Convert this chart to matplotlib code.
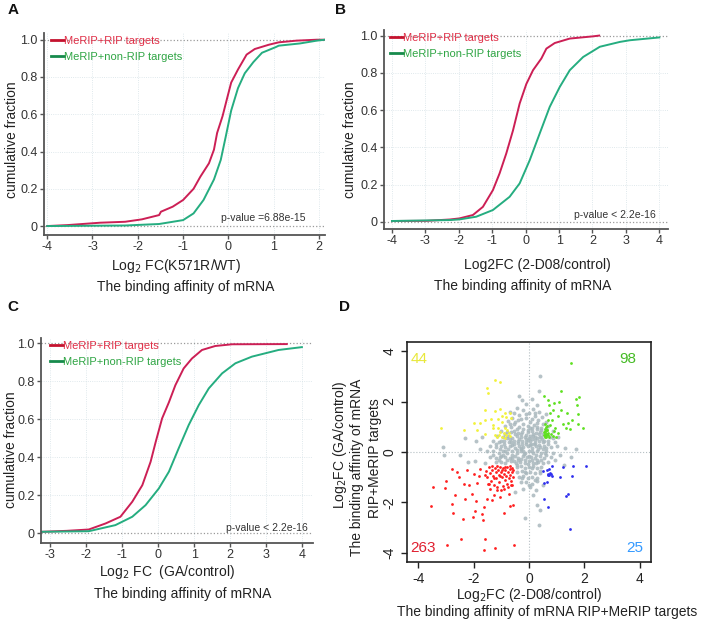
import numpy as np
import matplotlib.pyplot as plt

plt.rcParams['font.family'] = ['Liberation Sans', 'DejaVu Sans']

W, H = 703, 622

# ---- panel A : Log2 FC(K571R/WT)
a_rip_x = [-4.0, -3.56, -2.83, -2.28, -1.91, -1.53, -1.49, -1.23, -1.0, -0.77, -0.62, -0.43,
           -0.32, -0.25, -0.13, -0.02, 0.06, 0.21, 0.40, 0.58, 0.89, 1.11, 1.5, 1.95, 2.13]
a_rip_y = [0.0, 0.005, 0.018, 0.023, 0.036, 0.059, 0.077, 0.104, 0.14, 0.20, 0.265, 0.337,
           0.41, 0.50, 0.59, 0.695, 0.77, 0.84, 0.92, 0.95, 0.973, 0.986, 0.995, 1.0, 1.0]
a_non_x = [-4.0, -2.28, -1.53, -1.0, -0.77, -0.55, -0.32, -0.17, -0.06, 0.06, 0.21, 0.36,
           0.55, 0.74, 1.04, 1.11, 1.58, 1.95, 2.13]
a_non_y = [0.0, 0.003, 0.011, 0.032, 0.068, 0.14, 0.25, 0.355, 0.48, 0.62, 0.74, 0.82,
           0.88, 0.93, 0.96, 0.968, 0.98, 0.995, 1.0]

# ---- panel B : Log2FC (2-D08/control)
b_rip_x = [-4.0, -2.97, -2.27, -1.98, -1.58, -1.28, -0.98, -0.78, -0.58, -0.38, -0.18,
           0.02, 0.22, 0.47, 0.62, 0.87, 1.32, 2.02, 2.2]
b_rip_y = [0.004, 0.005, 0.012, 0.018, 0.036, 0.08, 0.17, 0.26, 0.367, 0.49, 0.635,
           0.74, 0.814, 0.877, 0.93, 0.96, 0.984, 0.996, 1.0]
b_non_x = [-4.0, -2.27, -1.98, -1.48, -0.98, -0.48, -0.18, 0.12, 0.42, 0.72, 1.02,
           1.32, 1.72, 2.22, 2.82, 3.12, 4.0]
b_non_y = [0.004, 0.009, 0.0125, 0.027, 0.063, 0.134, 0.206, 0.33, 0.474, 0.617, 0.724,
           0.814, 0.885, 0.94, 0.966, 0.975, 0.99]

# ---- panel C : Log2 FC (GA/control)
c_rip_x = [-3.23, -2.54, -1.93, -1.46, -1.05, -0.72, -0.44, -0.21, -0.07, 0.11, 0.30,
           0.48, 0.71, 0.94, 1.22, 1.59, 2.06, 3.58]
c_rip_y = [0.009, 0.014, 0.021, 0.053, 0.088, 0.167, 0.254, 0.377, 0.48, 0.605, 0.69,
           0.78, 0.868, 0.92, 0.965, 0.986, 0.995, 0.996]
c_non_x = [-3.23, -1.93, -1.19, -0.72, -0.35, 0.02, 0.30, 0.57, 0.85, 1.13, 1.41,
           1.78, 2.15, 2.61, 3.35, 4.0]
c_non_y = [0.009, 0.012, 0.044, 0.088, 0.149, 0.237, 0.325, 0.447, 0.57, 0.675, 0.763,
           0.842, 0.895, 0.93, 0.965, 0.98]

# ---- panel D : scatter, (x = 2-D08/control, y = GA/control)
gray_pts = [
    (0.4, 3.0), (-0.25, 2.05), (0.1, 2.1), (-0.1, 1.9), (0.3, 1.85), (-0.45, 1.75), (0.15, 1.72),
    (-0.2, 1.65), (-0.55, 1.55), (0.35, 1.6), (0.0, 1.55), (-0.35, 1.45), (0.22, 1.42), (0.48, 1.38),
    (-0.6, 1.35), (-0.1, 1.35), (-0.75, 1.22), (-0.4, 1.25), (0.05, 1.2), (0.32, 1.25), (0.6, 1.18),
    (-0.2, 1.12), (-0.55, 1.1), (0.18, 1.08), (-0.85, 1.02), (-0.65, 0.98), (-0.35, 1.0), (-0.05, 1.02),
    (0.12, 0.95), (0.3, 1.0), (0.45, 0.95), (-0.2, 0.9), (0.7, 1.02), (-1.0, 0.85), (-0.8, 0.8),
    (-0.55, 0.82), (-0.4, 0.75), (-0.25, 0.8), (-0.05, 0.78), (0.1, 0.82), (0.25, 0.75), (0.4, 0.8),
    (0.52, 0.72), (0.85, 0.85), (-0.12, 0.68), (-1.15, 0.62), (-0.95, 0.6), (-0.75, 0.65), (-0.6, 0.55),
    (-0.45, 0.62), (-0.3, 0.58), (-0.15, 0.6), (0.0, 0.55), (0.15, 0.62), (0.3, 0.55), (0.45, 0.6),
    (0.85, 0.55), (0.22, 0.48), (-1.3, 0.42), (-1.1, 0.4), (-0.9, 0.45), (-0.72, 0.38), (-0.55, 0.42),
    (-0.4, 0.35), (-0.25, 0.45), (-0.1, 0.38), (0.05, 0.42), (0.2, 0.35), (0.35, 0.42), (0.5, 0.38),
    (0.7, 0.42), (0.95, 0.4), (-1.4, 0.22), (-1.2, 0.2), (-1.0, 0.25), (-0.85, 0.18), (-0.68, 0.22),
    (-0.5, 0.15), (-0.35, 0.25), (-0.2, 0.18), (-0.05, 0.22), (0.1, 0.15), (0.25, 0.22), (0.4, 0.18),
    (0.55, 0.25), (0.78, 0.2), (1.0, 0.22), (-1.5, 0.02), (-1.3, 0.05), (-1.1, -0.02), (-0.95, 0.03),
    (-0.78, -0.03), (-0.62, 0.05), (-0.45, -0.02), (-0.3, 0.04), (-0.15, -0.03), (0.0, 0.05),
    (0.15, -0.02), (0.3, 0.03), (0.45, -0.04), (0.62, 0.02), (0.88, -0.03), (-1.4, -0.18),
    (-1.2, -0.22), (-1.02, -0.15), (-0.85, -0.2), (-0.7, -0.25), (-0.52, -0.17), (-0.38, -0.22),
    (-0.22, -0.15), (-0.08, -0.2), (0.08, -0.18), (0.22, -0.25), (0.38, -0.17), (0.55, -0.22),
    (0.78, -0.18), (-1.2, -0.4), (-1.0, -0.38), (-0.85, -0.42), (-0.65, -0.35), (-0.48, -0.42),
    (-0.32, -0.38), (-0.15, -0.45), (0.0, -0.36), (0.15, -0.42), (0.32, -0.38), (0.5, -0.45),
    (0.68, -0.4), (-0.45, -0.6), (-0.3, -0.55), (-0.15, -0.62), (0.0, -0.58), (0.15, -0.55),
    (0.3, -0.62), (0.45, -0.58), (-0.42, -0.8), (-0.25, -0.75), (-0.1, -0.82), (0.05, -0.78),
    (0.2, -0.85), (0.38, -0.76), (-0.35, -1.0), (-0.2, -0.95), (-0.05, -1.05), (0.12, -0.98),
    (0.3, -1.02), (-0.3, -1.2), (-0.1, -1.18), (0.1, -1.25), (0.28, -1.15), (-0.2, -1.45),
    (0.05, -1.4), (0.25, -1.5), (0.3, -2.1), (-0.15, -2.6), (0.35, -2.9), (0.4, -2.3), (0.15, -1.7),
    (-0.5, -1.6), (0.5, -1.3), (-3.1, 0.2), (-3.05, -0.1), (-2.2, -0.4), (-1.9, 0.45), (-1.95, -0.35),
    (-2.5, -0.1), (-1.7, 0.6), (-1.6, -0.45), (-1.75, 0.1), (-2.3, 0.55), (1.1, -0.1), (1.3, 0.15),
    (1.7, 0.1), (1.25, -0.5), (0.95, -0.3), (1.5, -0.2), (1.05, 0.6), (-0.35, 2.2), (0.35, 2.4),
    (-0.7, 1.6), (0.6, 1.5), (-0.6, 0.28), (-0.45, 0.08), (-0.28, 0.12), (-0.12, 0.3), (0.02, 0.28),
    (0.18, 0.3), (0.32, 0.1), (0.48, 0.5), (0.12, 0.5), (-0.05, 0.48), (-0.35, 0.5), (-0.5, 0.7),
    (-0.18, -0.08), (-0.6, -0.1), (-0.85, 0.05), (0.35, 0.7), (0.05, 0.95), (-0.3, 0.15), (0.25, -0.1),
    (-0.4, -0.3), (0.1, -0.3), (-0.8, -0.3), (-1.05, 0.12), (0.6, 0.15), (0.6, -0.1),
    (-0.9, 0.3), (-0.7, 0.5), (-0.55, 0.3), (-0.4, 0.45), (-0.25, 0.32), (-0.1, 0.5), (0.05, 0.65),
    (0.2, 0.58), (0.35, 0.28), (0.5, 0.1), (0.42, 0.88), (0.28, 0.9), (0.15, 0.72), (-0.02, 0.88),
    (-0.3, 0.7), (-0.45, 0.9), (-0.65, 0.8), (-0.8, 0.55), (-1.0, 0.45), (-1.2, 0.3), (-1.3, -0.1),
    (-1.1, -0.3), (-0.95, -0.1), (-0.75, 0.1), (-0.6, -0.25), (-0.45, -0.5), (-0.3, -0.28),
    (-0.15, -0.3), (0.0, -0.15), (0.12, 0.05), (0.28, -0.3), (0.45, -0.3), (0.58, -0.05), (0.7, 0.3),
    (0.75, 0.6), (0.62, 0.9), (0.5, 1.1), (0.3, 1.15), (0.1, 1.3), (-0.3, 1.3), (-0.1, 1.5), (0.2, 1.55),
    (-0.5, 1.2), (-0.7, 1.1), (-0.15, -0.8), (0.1, -0.65), (0.25, -0.45), (-0.05, -0.48), (0.4, -0.85),
    (0.2, -1.1), (-0.25, -1.05), (0.0, -1.3), (-0.55, -0.35), (-0.2, 0.05), (0.08, 0.3), (0.38, 0.58),
    (0.55, 0.45), (-0.65, 0.4), (-0.85, 0.7), (-1.05, -0.2),
]
yellow_pts = [
    (-3.19, 0.96), (-2.33, 0.86), (-1.87, 0.86), (-2.0, 1.14), (-1.76, 1.15), (-1.58, 1.25),
    (-1.59, 1.65), (-1.52, 2.52), (-1.47, 2.34), (-1.24, 2.86), (-1.06, 2.79), (-1.24, 1.61),
    (-1.06, 1.69), (-0.85, 1.56), (-0.68, 1.56), (-0.97, 1.41), (-0.82, 1.37), (-1.36, 1.32),
    (-1.12, 1.31), (-1.31, 1.08), (-0.97, 1.19), (-0.66, 1.36), (-1.58, 0.70), (-1.31, 0.95),
    (-1.12, 0.96), (-0.85, 0.96), (-1.24, 0.66), (-1.15, 0.59), (-1.07, 0.69), (-0.97, 0.59),
    (-0.90, 0.75), (-0.82, 0.66), (-0.73, 0.75), (-0.70, 0.62), (-0.85, 0.57), (-1.03, 0.79),
    (-0.78, 0.86),
]
green_pts = [
    (1.51, 3.52), (1.16, 2.40), (1.81, 2.19), (1.69, 2.11), (0.55, 2.20), (0.70, 2.07), (0.91, 1.94),
    (1.09, 2.0), (0.73, 1.85), (1.72, 1.85), (0.88, 1.65), (1.15, 1.65), (0.75, 1.54), (1.36, 1.56),
    (1.75, 1.49), (1.03, 1.41), (0.70, 1.25), (0.84, 1.28), (1.54, 1.25), (1.42, 1.15), (1.75, 1.10),
    (1.22, 1.10), (1.95, 0.96), (1.32, 0.96), (1.47, 0.92), (0.58, 1.12), (0.64, 1.02), (0.75, 1.06),
    (0.93, 0.96), (0.90, 0.83), (1.06, 0.75), (0.79, 0.73), (0.64, 0.86), (0.55, 0.79), (0.55, 0.66),
    (0.58, 0.59), (0.67, 0.66), (0.72, 0.60), (0.88, 0.62), (0.96, 0.60), (0.56, 0.62), (0.58, 0.68),
    (0.60, 0.72), (0.57, 0.78), (0.62, 0.65), (0.65, 0.70), (0.59, 0.85), (0.63, 0.60), (0.68, 0.75),
    (0.56, 0.92), (0.61, 0.98), (0.66, 0.88),
]
red_pts = [
    (-3.48, -1.39), (-3.54, -2.14), (-2.95, -3.70), (-2.99, -1.15), (-3.02, -1.43), (-2.79, -0.66),
    (-2.59, -0.79), (-2.53, -0.99), (-2.66, -1.72), (-2.78, -2.05), (-2.74, -2.42), (-2.47, -3.43),
    (-2.39, -2.64), (-2.35, -1.25), (-2.31, -1.85), (-2.23, -0.70), (-2.17, -1.32), (-2.07, -1.65),
    (-2.03, -2.57), (-1.93, -2.35), (-1.91, -1.94), (-1.99, -0.86), (-1.87, -1.23), (-1.79, -0.96),
    (-1.75, -0.66), (-1.69, -2.44), (-1.67, -2.71), (-1.63, -2.18), (-1.61, -3.87), (-1.57, -3.43),
    (-1.51, -1.85), (-1.45, -1.25), (-1.35, -1.91), (-1.27, -1.72), (-1.23, -3.79), (-1.15, -1.52),
    (-1.03, -1.78), (-0.90, -2.42), (-0.73, -1.65), (-0.67, -2.15), (-0.59, -2.11), (-0.55, -3.67),
    (-1.55, -0.75), (-1.5, -1.0), (-1.45, -0.6), (-1.4, -0.85), (-1.38, -1.15), (-1.32, -0.7),
    (-1.3, -0.95), (-1.25, -1.3), (-1.22, -0.62), (-1.2, -0.8), (-1.18, -1.05), (-1.12, -0.7),
    (-1.1, -0.9), (-1.08, -1.2), (-1.05, -0.6), (-1.0, -0.78), (-0.98, -1.0), (-0.95, -1.35),
    (-0.92, -0.65), (-0.9, -0.88), (-0.88, -1.1), (-0.85, -0.72), (-0.82, -0.95), (-0.8, -1.25),
    (-0.78, -0.6), (-0.75, -0.8), (-0.72, -1.05), (-0.7, -0.68), (-0.68, -0.9), (-0.65, -1.15),
    (-0.62, -0.62), (-0.6, -0.78), (-0.58, -1.0), (-0.56, -0.7), (-1.48, -1.25), (-1.42, -1.45),
    (-1.35, -0.55), (-1.15, -1.4), (-1.02, -1.5), (-0.9, -1.45), (-0.75, -1.4), (-0.66, -1.3),
    (-1.6, -0.9), (-1.28, -1.05), (-1.05, -0.95), (-0.97, -0.7), (-0.86, -0.6), (-0.7, -0.55),
    (-1.15, -0.55), (-0.6, -1.3),
]
blue_pts = [
    (0.84, -0.55), (1.24, -0.59), (1.59, -0.55), (2.07, -0.54), (0.52, -0.75), (0.64, -0.70),
    (0.72, -0.69), (0.70, -0.86), (0.73, -0.90), (0.79, -0.88), (0.67, -0.92), (1.12, -0.99),
    (1.56, -0.94), (0.55, -1.23), (0.64, -1.19), (1.39, -1.65), (1.35, -1.76), (0.55, -1.87),
    (0.67, -2.18), (1.47, -3.04), (0.77, -0.83), (0.82, -0.94),
]
quad_counts = ['44', '98', '263', '25']

RED = '#cc1f55'
GREEN = '#25ad80'

fig = plt.figure(figsize=(W / 100, H / 100), dpi=100)


def box(left, top, right, bottom):
    return fig.add_axes([left / W, 1 - bottom / H, (right - left) / W, (bottom - top) / H])


def ftext(x, y, s, **kw):
    fig.text(x / W, 1 - y / H, s, **kw)


def cdf_panel(ax, xlim, ylim, xticks, rip, non, pval, pval_xy, leg_xy):
    ax.plot(rip[0], rip[1], color=RED, lw=1.4, label='MeRIP+RIP targets')
    ax.plot(non[0], non[1], color=GREEN, lw=1.4, label='MeRIP+non-RIP targets')
    ax.set_xlim(xlim)
    ax.set_ylim(ylim)
    ax.set_xticks(xticks)
    ax.set_xticklabels([str(t) for t in xticks])
    ax.set_yticks([0, 0.2, 0.4, 0.6, 0.8, 1.0])
    ax.set_yticklabels(['0', '0.2', '0.4', '0.6', '0.8', '1.0'])
    for s in ['top', 'right']:
        ax.spines[s].set_visible(False)
    for s in ['left', 'bottom']:
        ax.spines[s].set_color('#555555')
        ax.spines[s].set_linewidth(1.3)
    ax.tick_params(color='#555555', labelcolor='#333333', labelsize=9, length=3, width=1, pad=1.5)
    for t in xticks:
        ax.axvline(t, color='#d5e2e6', lw=0.6, ls=':', zorder=0)
    for t in [0.2, 0.4, 0.6, 0.8]:
        ax.axhline(t, color='#d5e2e6', lw=0.6, ls=':', zorder=0)
    ax.axhline(0, color='#9a9a9a', lw=0.9, ls=':', zorder=0)
    ax.axhline(1, color='#9a9a9a', lw=0.9, ls=':', zorder=0)
    leg = ax.legend(loc='upper left', bbox_to_anchor=leg_xy, frameon=False, fontsize=8,
                    handlelength=1.2, handletextpad=0.0, borderpad=0, borderaxespad=0,
                    labelspacing=0.55)
    leg.get_lines()[0].set_color('#c4122e')
    leg.get_lines()[1].set_color('#168a4c')
    leg.get_lines()[0].set_linewidth(2)
    leg.get_lines()[1].set_linewidth(2)
    leg.get_texts()[0].set_color('#e03048')
    leg.get_texts()[1].set_color('#2fa544')
    ax.text(pval_xy[0], pval_xy[1], pval, transform=ax.transAxes, ha='right', va='center',
            fontsize=7.5, color='#333333')


ax_a = box(44, 33, 325, 235)
cdf_panel(ax_a, (-4.07, 2.13), (-0.048, 1.036), [-4, -3, -2, -1, 0, 1, 2],
          (a_rip_x, a_rip_y), (a_non_x, a_non_y), 'p-value =6.88e-15', (0.932, 0.084),
          (0.025, 0.985))

ax_b = box(384, 30, 668, 229)
cdf_panel(ax_b, (-4.24, 4.26), (-0.039, 1.03), [-4, -3, -2, -1, 0, 1, 2, 3, 4],
          (b_rip_x, b_rip_y), (b_non_x, b_non_y), 'p-value < 2.2e-16', (0.958, 0.07),
          (0.02, 0.985))

ax_c = box(41, 338, 313, 543)
cdf_panel(ax_c, (-3.26, 4.31), (-0.05, 1.028), [-3, -2, -1, 0, 1, 2, 3, 4],
          (c_rip_x, c_rip_y), (c_non_x, c_non_y), 'p-value < 2.2e-16', (0.98, 0.075),
          (0.032, 0.985))

# ---- panel D
ax_d = box(407, 342, 651, 562)
gp = np.array(gray_pts)
ax_d.scatter(gp[:, 0], gp[:, 1], s=8, color='#a9b8bd', alpha=0.85, lw=0)
for pts, col in [(yellow_pts, '#f2f23a'), (green_pts, '#5fe020'),
                 (red_pts, '#ff2020'), (blue_pts, '#3030ee')]:
    p = np.array(pts)
    ax_d.scatter(p[:, 0], p[:, 1], s=4, color=col, lw=0)
ax_d.axvline(0, color='#b5bfc3', lw=0.8, ls=':', zorder=0)
ax_d.axhline(0, color='#b5bfc3', lw=0.8, ls=':', zorder=0)
ax_d.set_xlim(-4.4, 4.4)
ax_d.set_ylim(-4.36, 4.36)
ax_d.set_xticks([-4, -2, 0, 2, 4])
ax_d.set_yticks([-4, -2, 0, 2, 4])
ax_d.set_xticklabels(['-4', '-2', '0', '2', '4'])
ax_d.set_yticklabels(['-4', '-2', '0', '2', '4'], rotation=90, va='center')
ax_d.tick_params(labelsize=10, length=4, width=1, color='#222222', labelcolor='#222222')
for s in ax_d.spines.values():
    s.set_linewidth(1.2)
    s.set_color('#222222')
ax_d.text(0.015, 0.955, quad_counts[0], transform=ax_d.transAxes, color='#e8e83a',
          fontsize=11, ha='left', va='top')
ax_d.text(0.94, 0.955, quad_counts[1], transform=ax_d.transAxes, color='#45bb25',
          fontsize=11, ha='right', va='top')
ax_d.text(0.015, 0.03, quad_counts[2], transform=ax_d.transAxes, color='#e02030',
          fontsize=11, ha='left', va='bottom')
ax_d.text(0.97, 0.03, quad_counts[3], transform=ax_d.transAxes, color='#3399ff',
          fontsize=11, ha='right', va='bottom')

# ---- axis titles and panel letters
lab = dict(fontsize=10, color='#222222', ha='center', va='center')
ftext(12, 140, 'cumulative fraction', rotation=90, **lab)
ftext(176, 266, 'Log$_2$ FC(K571R/WT)', **lab)
ftext(186, 287, 'The binding affinity of mRNA', **lab)

ftext(350, 140, 'cumulative fraction', rotation=90, **lab)
ftext(537, 265, 'Log2FC (2-D08/control)', **lab)
ftext(523, 286, 'The binding affinity of mRNA', **lab)

ftext(11, 450, 'cumulative fraction', rotation=90, **lab)
ftext(167, 572, 'Log$_2$ FC  (GA/control)', **lab)
ftext(183, 594, 'The binding affinity of mRNA', **lab)

ftext(340, 445, 'Log$_2$FC (GA/control)', rotation=90, **lab)
ftext(357, 467, 'The binding affinity of mRNA', rotation=90, **lab)
ftext(375, 458, 'RIP+MeRIP targets', rotation=90, **lab)
ftext(529, 595, 'Log$_2$FC (2-D08/control)', **lab)
ftext(547, 612, 'The binding affinity of mRNA RIP+MeRIP targets', **lab)

letter = dict(fontsize=11, fontweight='bold', color='#111111', ha='center', va='center')
ftext(13, 10, 'A', **letter)
ftext(340, 10, 'B', **letter)
ftext(13, 307, 'C', **letter)
ftext(345, 307, 'D', **letter)

fig.savefig('out.png', dpi=100)
